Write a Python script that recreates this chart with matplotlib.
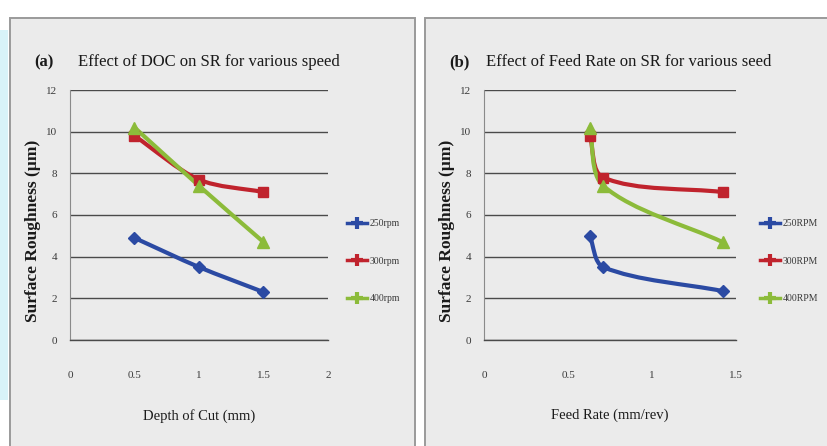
import numpy as np
import matplotlib
matplotlib.use("Agg")
import matplotlib.pyplot as plt
from matplotlib.path import Path
from matplotlib.patches import PathPatch, Rectangle
from matplotlib.lines import Line2D

# ---------------- data ----------------
doc = [0.5, 1.0, 1.5]
doc_250 = [4.9, 3.5, 2.3]
doc_300 = [9.8, 7.7, 7.1]
doc_400 = [10.2, 7.4, 4.7]

feed = [0.63, 0.71, 1.42]
feed_250 = [5.0, 3.5, 2.35]
feed_300 = [9.8, 7.8, 7.1]
feed_400 = [10.2, 7.4, 4.7]

labels_a = ["250rpm", "300rpm", "400rpm"]
labels_b = ["250RPM", "300RPM", "400RPM"]
yticks = [0, 2, 4, 6, 8, 10, 12]
xticks_a = [0, 0.5, 1, 1.5, 2]
xticks_b = [0, 0.5, 1, 1.5]
xticklabels_a = ["0", "0.5", "1", "1.5", "2"]
xticklabels_b = ["0", "0.5", "1", "1.5"]
title_a = "Effect of DOC on SR for various speed"
title_b = "Effect of Feed Rate on SR for various seed"
xlabel_a = "Depth of Cut (mm)"
xlabel_b = "Feed Rate (mm/rev)"
ylabel = "Surface Roughness (µm)"

# ---------------- style ----------------
W, H = 828, 446
DPI = 100
COLORS = ["#2b4aa3", "#c0232d", "#8cbb3a"]
MARKERS = ["D", "s", "^"]
MSIZES = [6, 7, 8]
SERIF = ["Liberation Serif", "DejaVu Serif"]
PANEL_BG = "#ebebeb"
GRID = "#4a4a4a"

fig = plt.figure(figsize=(W / DPI, H / DPI), dpi=DPI)
fig.patch.set_facecolor("white")


def fx(px):
    return px / W


def fy(py):
    return 1 - py / H


# faint watermark tint on the far left
fig.patches.append(Rectangle((0, fy(400)), fx(8), fy(30) - fy(400),
                             transform=fig.transFigure, facecolor="#d8f3f8",
                             edgecolor="none", zorder=-3))

# panel backgrounds
for x0, x1 in [(10, 415), (425, 835)]:
    fig.patches.append(Rectangle((fx(x0), fy(450)), fx(x1 - x0), fy(18) - fy(450),
                                 transform=fig.transFigure, facecolor=PANEL_BG,
                                 edgecolor="#9a9a9a", linewidth=1.4, zorder=-2))


def smooth_curve(ax, xs, ys, color):
    pts = ax.transData.transform(np.column_stack([xs, ys]))
    n = len(pts)
    dirs = []
    for i in range(n):
        a = pts[max(i - 1, 0)]
        b = pts[min(i + 1, n - 1)]
        d = b - a
        dirs.append(d / np.hypot(*d))
    verts = [pts[0]]
    codes = [Path.MOVETO]
    for i in range(n - 1):
        L = np.hypot(*(pts[i + 1] - pts[i]))
        c1 = pts[i] + dirs[i] * L * 0.3
        c2 = pts[i + 1] - dirs[i + 1] * L * 0.3
        verts += [c1, c2, pts[i + 1]]
        codes += [Path.CURVE4] * 3
    verts = ax.transData.inverted().transform(np.array(verts))
    ax.add_patch(PathPatch(Path(verts, codes), facecolor="none", edgecolor=color,
                           linewidth=3.0, capstyle="round", joinstyle="round",
                           zorder=3, clip_on=False))


def make_panel(rect, xs, series, xlim, xticks, xticklabels, xlabel, title, tag,
               tag_x, title_x, labels, legend_x, ylabel_x):
    ax = fig.add_axes(rect)
    ax.set_facecolor("none")
    ax.set_xlim(*xlim)
    ax.set_ylim(0, 12)
    for s in ["top", "right"]:
        ax.spines[s].set_visible(False)
    ax.spines["bottom"].set_color(GRID)
    ax.spines["left"].set_color("#8a8a8a")
    ax.spines["bottom"].set_linewidth(1.0)
    ax.spines["left"].set_linewidth(0.8)
    ax.set_yticks(yticks)
    ax.set_yticklabels([str(v) for v in yticks])
    ax.set_xticks(xticks)
    ax.set_xticklabels(xticklabels)
    ax.tick_params(axis="both", length=0, colors="#3a3a3a", labelsize=8)
    ax.tick_params(axis="x", pad=22)
    ax.tick_params(axis="y", pad=9)
    for lab in ax.get_xticklabels() + ax.get_yticklabels():
        lab.set_family(SERIF)
    ax.grid(axis="y", color=GRID, linewidth=1.0)
    ax.set_axisbelow(True)
    for ys, c, m, ms in zip(series, COLORS, MARKERS, MSIZES):
        smooth_curve(ax, xs, ys, c)
        ax.plot(xs, ys, linestyle="none", marker=m, markersize=ms, color=c,
                markeredgecolor=c, zorder=4, clip_on=False)
    ax.set_xlabel(xlabel, family=SERIF, fontsize=10.5, color="#1a1a1a", labelpad=21)
    fig.text(fx(tag_x), fy(62), tag, family=SERIF, fontsize=12, color="#1a1a1a",
             va="center", ha="left", fontweight="bold")
    fig.text(fx(title_x), fy(62), title, family=SERIF, fontsize=12, color="#1a1a1a",
             va="center", ha="left")
    fig.text(fx(ylabel_x), fy(231), ylabel, family=SERIF, fontsize=12.5, color="#1a1a1a",
             rotation=90, va="center", ha="center", fontweight="bold")
    handles = [Line2D([0], [0], color=c, marker="+", markersize=9, markeredgewidth=3,
                      linewidth=2.5) for c in COLORS]
    leg = fig.legend(handles, labels, loc="upper left",
                     bbox_to_anchor=(fx(legend_x), fy(219)), frameon=False,
                     fontsize=7, handlelength=2.1, handletextpad=0.2,
                     labelspacing=2.95, borderpad=0, borderaxespad=0)
    for t in leg.get_texts():
        t.set_family(SERIF)
        t.set_color("#3a3a3a")
    return ax


make_panel([fx(70), fy(340), fx(328 - 70), fy(90) - fy(340)], doc,
           [doc_250, doc_300, doc_400], (0, 2), xticks_a, xticklabels_a, xlabel_a,
           title_a, "(a)", 34, 78, labels_a, 347, 33)
make_panel([fx(484), fy(340), fx(736 - 484), fy(90) - fy(340)], feed,
           [feed_250, feed_300, feed_400], (0, 1.5), xticks_b, xticklabels_b, xlabel_b,
           title_b, "(b)", 449, 486, labels_b, 760, 447)

fig.savefig("out.png", dpi=DPI)
